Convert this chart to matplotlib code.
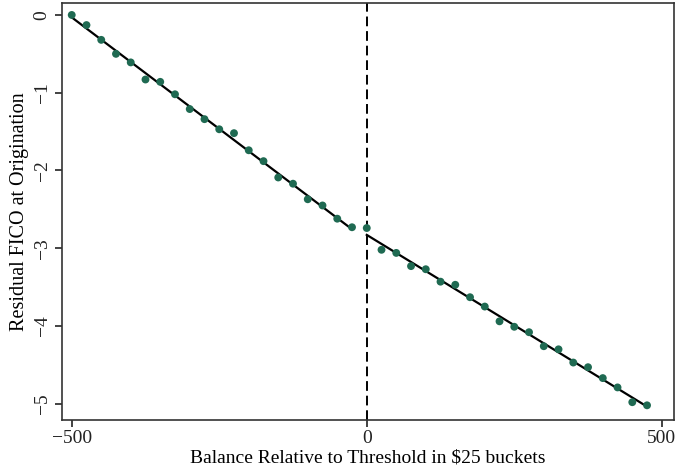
import numpy as np
import matplotlib
matplotlib.use("Agg")
import matplotlib.pyplot as plt

# Binned means of residual FICO, $25 balance buckets on each side of the threshold
left_bins = np.arange(-500, 0, 25)
left_fico = [0.00, -0.13, -0.32, -0.50, -0.61, -0.83, -0.86, -1.02, -1.21, -1.34,
             -1.47, -1.52, -1.74, -1.88, -2.09, -2.17, -2.37, -2.45, -2.62, -2.73]

right_bins = np.arange(0, 500, 25)
right_fico = [-2.74, -3.02, -3.06, -3.23, -3.27, -3.43, -3.47, -3.63, -3.75, -3.94,
              -4.01, -4.08, -4.26, -4.30, -4.47, -4.53, -4.67, -4.79, -4.98, -5.02]

x_ticks = [-500, 0, 500]
y_ticks = [0, -1, -2, -3, -4, -5]

DOT_COLOR = "#1f6a52"

plt.rcParams["font.family"] = ["Liberation Serif", "DejaVu Serif"]

fig = plt.figure(figsize=(6.78, 4.72), dpi=100)
ax = fig.add_axes([0.091, 0.110, 0.9025, 0.883])

# linear fits on each side of the cutoff
for bins, vals in [(left_bins, left_fico), (right_bins, right_fico)]:
    slope, icpt = np.polyfit(bins, vals, 1)
    ax.plot([bins[0], bins[-1]], [icpt + slope * bins[0], icpt + slope * bins[-1]],
            color="black", lw=1.6, zorder=2)
    ax.scatter(bins, vals, s=32, color=DOT_COLOR, edgecolors="none", zorder=3)

ax.axvline(0, color="black", lw=1.4, ls=(0, (5, 2.5)), zorder=1)

ax.set_xlim(-517, 520)
ax.set_ylim(-5.21, 0.15)
ax.set_xticks(x_ticks)
ax.set_yticks(y_ticks)
ax.set_xticklabels([str(t).replace("-", "\u2212") for t in x_ticks])
ax.set_yticklabels([str(t).replace("-", "\u2212") for t in y_ticks],
                   rotation=90, va="center")
ax.tick_params(direction="out", length=5, width=1.2, labelsize=14, colors="#222222")
ax.tick_params(axis="x", pad=2)
ax.tick_params(axis="y", pad=3)

for sp in ax.spines.values():
    sp.set_linewidth(1.2)
    sp.set_color("#333333")

ax.set_xlabel("Balance Relative to Threshold in $25 buckets", fontsize=14, labelpad=2)
ax.set_ylabel("Residual FICO at Origination", fontsize=14.5, labelpad=3)

fig.savefig("out.png", dpi=100)
